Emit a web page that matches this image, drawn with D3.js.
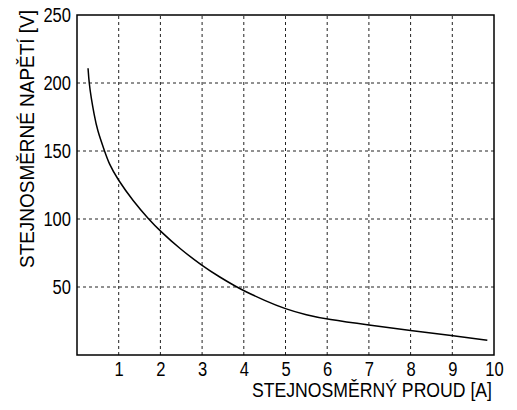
<!DOCTYPE html>
<html>
<head>
<meta charset="utf-8">
<script src="https://cdn.jsdelivr.net/npm/d3@7"></script>
<style>
html,body{margin:0;padding:0;background:#fff;}
svg text{font-family:"Liberation Sans",Arial,Helvetica,sans-serif;fill:#000;}
</style>
</head>
<body>
<svg id="chart" width="517" height="410"></svg>
<script>
const current = [0.265, 0.29, 0.34, 0.41, 0.49, 0.65, 0.77, 0.97, 1.35, 1.71, 2, 2.47, 3, 3.43, 3.83, 4, 4.5, 5, 5.5, 6, 7, 8, 9, 9.84];
const voltage = [210.8, 200, 189, 177, 165, 151, 140.4, 129.4, 113, 100.2, 91, 78, 65.7, 57.1, 50, 47.3, 40, 33.8, 29.4, 26.2, 22, 18.1, 14.2, 10.8];
const xTicks = [1, 2, 3, 4, 5, 6, 7, 8, 9, 10];
const yTicks = [50, 100, 150, 200, 250];
const xTitle = "STEJNOSMĚRNÝ PROUD [A]";
const yTitle = "STEJNOSMĚRNÉ NAPĚTÍ [V]";

const svg = d3.select("#chart");
const m = {left: 77, top: 15, right: 494, bottom: 355};
const x = d3.scaleLinear().domain([0, 10]).range([m.left, m.right]);
const y = d3.scaleLinear().domain([0, 250]).range([m.bottom, m.top]);

const g = svg.append("g");

// grid
g.selectAll(".vg").data(xTicks.filter(d => d < 10)).enter().append("line")
  .attr("x1", d => x(d)).attr("x2", d => x(d))
  .attr("y1", y(0)).attr("y2", y(250))
  .attr("stroke", "#222").attr("stroke-width", 1).attr("stroke-dasharray", "3,3");
g.selectAll(".hg").data(yTicks.filter(d => d < 250)).enter().append("line")
  .attr("x1", x(0)).attr("x2", x(10))
  .attr("y1", d => y(d)).attr("y2", d => y(d))
  .attr("stroke", "#222").attr("stroke-width", 1).attr("stroke-dasharray", "3,3");

// frame
g.append("rect").attr("x", x(0)).attr("y", y(250))
  .attr("width", x(10) - x(0)).attr("height", y(0) - y(250))
  .attr("fill", "none").attr("stroke", "#000").attr("stroke-width", 1.5);

// axes (labels only)
const narrow = sel => sel.attr("font-size", 20).style("font-family", null)
  .attr("textLength", d => String(d).length * 9.2).attr("lengthAdjust", "spacingAndGlyphs");

const xAxis = d3.axisBottom(x).tickValues(xTicks).tickSize(0).tickPadding(7).tickFormat(d3.format("d"));
const xa = svg.append("g").attr("transform", `translate(0,${y(0)})`).call(xAxis);
xa.select(".domain").remove();
xa.selectAll("text").call(narrow);

const yAxis = d3.axisLeft(y).tickValues(yTicks).tickSize(0).tickPadding(6).tickFormat(d3.format("d"));
const ya = svg.append("g").attr("transform", `translate(${x(0)},0)`).call(yAxis);
ya.select(".domain").remove();
ya.selectAll("text").call(narrow);

// curve
const line = d3.line().x((d, i) => x(current[i])).y((d, i) => y(voltage[i])).curve(d3.curveBasis);
g.append("path").datum(voltage).attr("d", line)
  .attr("fill", "none").attr("stroke", "#000").attr("stroke-width", 1.5);

// titles
svg.append("text").attr("x", 372).attr("y", 397).attr("text-anchor", "middle")
  .attr("font-size", 20).attr("textLength", 240).attr("lengthAdjust", "spacingAndGlyphs").text(xTitle);
svg.append("text").attr("transform", `translate(34,139) rotate(-90)`).attr("text-anchor", "middle")
  .attr("font-size", 19.5).attr("textLength", 258).attr("lengthAdjust", "spacingAndGlyphs").text(yTitle);
</script>
</body>
</html>
